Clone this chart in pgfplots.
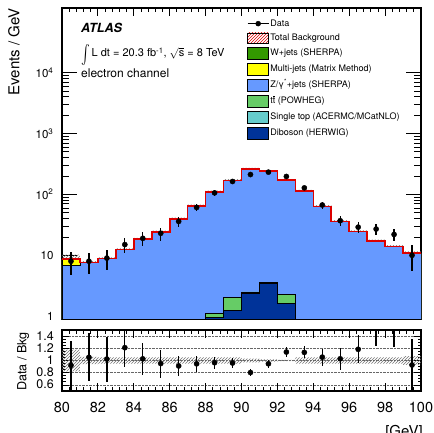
\documentclass[border=0pt]{standalone}
\usepackage{graphicx}
\usepackage{pgfplots}
\pgfplotsset{compat=1.18}
\usepackage{pgfplotstable}
\usepgfplotslibrary{fillbetween}
\usetikzlibrary{patterns}
\usepackage{fontspec}
\setmainfont{TeX Gyre Heros}

\definecolor{zjets}{RGB}{102,153,255}
\definecolor{dibos}{RGB}{0,51,153}
\definecolor{ttbar}{RGB}{102,204,102}
\definecolor{wjets}{RGB}{51,153,0}
\definecolor{mjets}{RGB}{255,255,0}
\definecolor{stop}{RGB}{102,204,204}
\definecolor{bkgred}{RGB}{220,0,0}

% Stacked backgrounds per 1 GeV bin (low edge), cumulative:
% tot = all, zc = diboson+ttbar+Z, ttc = diboson+ttbar, dib = diboson
% rel = relative uncertainty of the total background
\pgfplotstableread{
x    tot    zc     ttc   dib   rel
80   8.7    6.9    0.01  0.01  0.18
81   7.6    7.6    0.01  0.01  0.06
82   8.8    8.8    0.01  0.01  0.05
83   12.4   12.4   0.01  0.01  0.05
84   18.5   18.5   0.01  0.01  0.05
85   24.2   24.2   0.01  0.01  0.05
86   39.5   39.5   0.01  0.01  0.05
87   64.5   64.5   0.01  0.01  0.05
88   110    110    1.12  0.96  0.05
89   170    170    2.0   1.25  0.05
90   264    264    2.5   2.35  0.03
91   245    245    3.55  3.45  0.02
92   173    173    2.3   1.6   0.01
93   113    113    0.01  0.01  0.05
94   63.5   63.5   0.01  0.01  0.05
95   36     36     0.01  0.01  0.05
96   24.5   24.5   0.01  0.01  0.05
97   17.3   17.3   0.01  0.01  0.05
98   14     14     0.01  0.01  0.05
99   10.8   10.8   0.01  0.01  0.07
100  10.8   10.8   0.01  0.01  0.07
}\bkg

% Observed events, their errors, and data/background
\pgfplotstableread{
xc    data  err   ratio  rerr
80.5  8     3.3   0.920  0.40
81.5  8     3.1   1.053  0.39
82.5  9     3.3   1.023  0.37
83.5  15    4.0   1.210  0.32
84.5  19    4.8   1.027  0.26
85.5  23    5.5   0.950  0.23
86.5  36    6.7   0.911  0.17
87.5  61    8.4   0.946  0.13
88.5  106   11    0.964  0.10
89.5  163   13.6  0.959  0.08
90.5  212   14.6  0.803  0.055
91.5  232   15.3  0.947  0.065
92.5  197   14.1  1.139  0.085
93.5  128   11.5  1.133  0.10
94.5  67    8.9   1.055  0.14
95.5  37    6.5   1.028  0.18
96.5  29    5.6   1.184  0.23
97.5  27    5.4   1.561  0.33
98.5  22    4.9   1.571  0.35
99.5  10    4.5   0.926  0.42
}\obs

\pgfplotsset{
  boxleg/.style={legend image code/.code={\draw[##1] (0pt,-6pt) rectangle (21pt,6pt);}},
}

\begin{document}
\begin{tikzpicture}
\begin{axis}[
  name=main, at={(0,0)}, anchor=south west,
  scale only axis, width=359pt, height=311pt,
  xmin=80, xmax=100, ymode=log, ymin=0.9, ymax=1.15e5,
  log origin y=infty,
  xtick={80,82,...,100}, xticklabel=\empty, minor x tick num=4,
  ytick={1,10,100,1000,10000},
  yticklabels={1,10,10\textsuperscript{2},10\textsuperscript{3},10\textsuperscript{4}},
  tick align=inside, tick pos=both,
  axis line style={line width=1.2pt},
  tick style={line width=0.8pt, black},
  major tick length=8pt, minor tick length=4pt,
  every major y tick/.append style={/pgfplots/major tick length=15pt},
  every minor y tick/.append style={/pgfplots/minor tick length=7pt},
  yticklabel style={font=\fontsize{11.5}{13}\selectfont, xshift=-5pt},
  legend style={at={(0.515,0.968)}, anchor=north west, draw=none, fill=none,
    font=\fontsize{9}{10}\selectfont, row sep=3.2pt, inner sep=0pt,
    nodes={inner sep=1pt, text height=7pt, text depth=2pt}},
  legend cell align=left,
]
% stacked backgrounds, drawn from the total down
\addplot[const plot, fill=mjets, draw=black, line width=0.6pt, forget plot] table[x=x,y=tot]{\bkg} \closedcycle;
\addplot[const plot, fill=zjets, draw=black, line width=0.6pt, forget plot] table[x=x,y=zc]{\bkg} \closedcycle;
\addplot[const plot, fill=ttbar, draw=black, line width=0.8pt, forget plot] table[x=x,y=ttc]{\bkg} \closedcycle;
\addplot[const plot, fill=dibos, draw=black, line width=0.8pt, forget plot] table[x=x,y=dib]{\bkg} \closedcycle;
% background uncertainty
\addplot[const plot, draw=none, name path=up, forget plot] table[x=x, y expr=\thisrow{tot}*(1+\thisrow{rel})]{\bkg};
\addplot[const plot, draw=none, name path=lo, forget plot] table[x=x, y expr=\thisrow{tot}*(1-\thisrow{rel})]{\bkg};
\addplot[pattern=north east lines, pattern color=black!55, forget plot] fill between[of=up and lo];
% total background
\addplot[const plot, bkgred, line width=1.6pt, forget plot] table[x=x,y=tot]{\bkg};
% data
\addplot[only marks, mark=*, mark size=2.6pt, black, forget plot,
  error bars/.cd, y dir=both, y explicit, error mark=none,
  error bar style={line width=1.3pt}]
  table[x=xc, y=data, y error=err]{\obs};

% legend
\addlegendimage{legend image code/.code={\draw[black,line width=1.2pt] (0pt,0pt)--(21pt,0pt); \fill[black] (10.5pt,0pt) circle (2.5pt);}}
\addlegendentry{Data}
\addlegendimage{legend image code/.code={\fill[pattern=north east lines, pattern color=bkgred] (0pt,-5pt) rectangle (21pt,5pt);}}
\addlegendentry{Total Background}
\addlegendimage{boxleg, fill=wjets, draw=black, line width=0.8pt}
\addlegendentry{W+jets (SHERPA)}
\addlegendimage{boxleg, fill=mjets, draw=black, line width=0.8pt}
\addlegendentry{Multi-jets (Matrix Method)}
\addlegendimage{boxleg, fill=zjets, draw=black, line width=0.8pt}
\addlegendentry{Z/γ\textsuperscript{*}+jets (SHERPA)}
\addlegendimage{boxleg, fill=ttbar, draw=black, line width=0.8pt}
\addlegendentry{t$\overline{\hbox{t}}$ (POWHEG)}
\addlegendimage{boxleg, fill=stop, draw=black, line width=0.8pt}
\addlegendentry{Single top (ACERMC/MCatNLO)}
\addlegendimage{boxleg, fill=dibos, draw=black, line width=0.8pt}
\addlegendentry{Diboson (HERWIG)}
\end{axis}

\node[anchor=west, inner sep=0pt, font=\fontsize{12.6}{14}\bfseries\itshape] at (19pt,291pt) {ATLAS};
\node[anchor=base west, inner sep=0pt, font=\fontsize{11}{13}\selectfont] at (19pt,262pt)
  {\raisebox{-3pt}[9pt][3pt]{\scalebox{1.3}[1.9]{$\int$}}\,L dt = 20.3 fb\textsuperscript{-1}, $\sqrt{\hbox{s}}$ = 8 TeV};
\node[anchor=west, inner sep=0pt, font=\fontsize{12}{14}\selectfont] at (19pt,246pt) {electron channel};
\node[rotate=90, anchor=north east, inner sep=0pt, font=\fontsize{15}{17}\selectfont]
  at (-54pt,311pt) {Events / GeV};

\begin{axis}[
  name=ratio, at={(0,-11pt)}, anchor=north west,
  scale only axis, width=359pt, height=61pt,
  xmin=80, xmax=100, ymin=0.5, ymax=1.5,
  xtick={80,82,...,100},
  xticklabels={80,82,84,86,88,90,92,94,96,98,100},
  minor x tick num=4,
  ytick={0.6,0.8,1,1.2,1.4}, yticklabels={0.6,0.8,1,1.2,1.4},
  minor y tick num=3,
  ymajorgrids, grid style={densely dotted, black!60, line width=0.6pt},
  tick align=inside, tick pos=both,
  axis line style={line width=1.2pt},
  tick style={line width=0.8pt, black},
  major tick length=8pt, minor tick length=4pt,
  every major y tick/.append style={/pgfplots/major tick length=7pt},
  every minor y tick/.append style={/pgfplots/minor tick length=3.5pt},
  xticklabel style={font=\fontsize{14.5}{16}\selectfont, yshift=-8pt},
  yticklabel style={font=\fontsize{12.5}{13}\selectfont, inner sep=0pt,
    text height=8pt, text depth=0pt, xshift=-8pt},
]
\addplot[const plot, draw=none, name path=rup, forget plot] table[x=x, y expr=1+\thisrow{rel}]{\bkg};
\addplot[const plot, draw=none, name path=rlo, forget plot] table[x=x, y expr=1-\thisrow{rel}]{\bkg};
\addplot[pattern=north east lines, pattern color=black!55, forget plot] fill between[of=rup and rlo];
\addplot[only marks, mark=*, mark size=2.6pt, black,
  error bars/.cd, y dir=both, y explicit, error mark=none,
  error bar style={line width=1.3pt}]
  table[x=xc, y=ratio, y error=rerr]{\obs};
\end{axis}

\node[rotate=90, anchor=north east, inner sep=0pt, font=\fontsize{12.6}{14}\selectfont]
  at (-45pt,-13pt) {Data / Bkg};
\node[anchor=north east, inner sep=0pt, font=\fontsize{15}{17}\selectfont]
  at (361pt,-106pt) {[GeV]};

\pgfresetboundingbox
\useasboundingbox (-62pt,-113pt) rectangle (372pt,319pt);
\end{tikzpicture}
\end{document}
